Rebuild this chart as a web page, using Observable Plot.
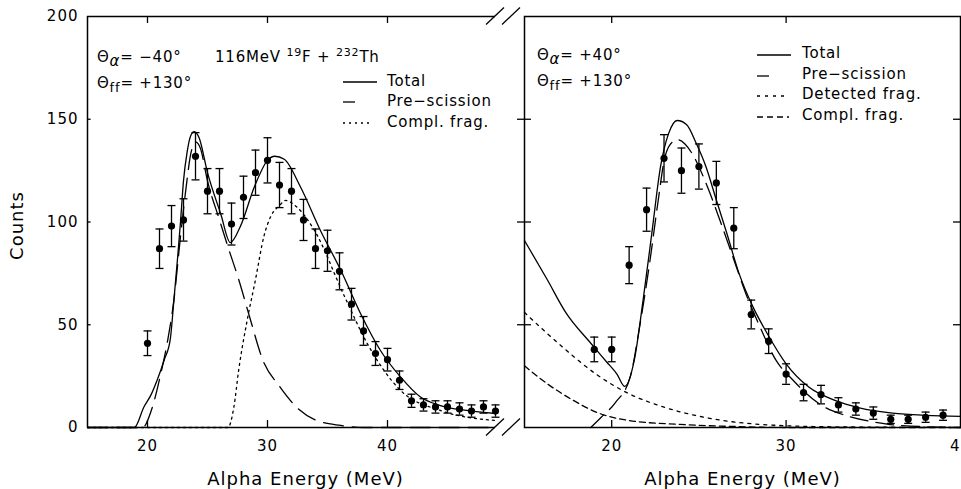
<!DOCTYPE html>
<html><head><meta charset="utf-8">
<script src="https://cdn.jsdelivr.net/npm/d3@7"></script>
<script src="https://cdn.jsdelivr.net/npm/@observablehq/plot@0.6"></script>
<style>
body{margin:0;background:#fff;}
#wrap{position:relative;width:961px;height:489px;overflow:hidden;font-family:"DejaVu Sans";color:#000;background:#fff;}
#wrap svg text{letter-spacing:1px;}
.chart{position:absolute;top:0;}
.ann{position:absolute;font-size:15px;line-height:15px;white-space:pre;letter-spacing:0.8px;}
.ann sub,.ann sup{line-height:0;font-size:11px;}
.ann sub.ff{font-size:13px;vertical-align:-4px;}
.ann sub.al{font-size:15px;font-style:italic;}
#over{position:absolute;left:0;top:0;pointer-events:none;}
</style></head><body><div id="wrap"></div>
<script>
// ---------- data ----------
// left panel: theta_alpha = -40 deg
const leftE      = [20,21,22,23,24,25,26,27,28,29,30,31,32,33,34,35,36,37,38,39,40,41,42,43,44,45,46,47,48,49];
const leftCounts = [41,87,98,101,132,115,115,99,112,124,130,118,115,101,87,86,76,60,47,36,33,23,13,11,10,10,9,8,10,8];
const leftErr    = [6,9.6,10,10.3,11.5,11,11,10.2,10.3,11,11,11,11,10,9.6,10,9,7.7,7,5.8,5.5,4.5,3.2,3,3,3,3,3,3,3];
const leftTotal = [[15,0],[18.9,0],[19.7,10],[20.3,16],[20.8,23],[21.4,33],[21.9,43],[22.2,62],[22.5,82],[22.75,100],[23,120],[23.3,134],[23.6,142],[23.9,144],[24.3,141],[25,124],[26.1,104],[26.9,90],[27.75,98],[28.9,117],[30,130],[30.6,132],[31.4,130.5],[32.75,117],[34.4,96],[36.1,76.6],[37.75,55.5],[39.4,37.6],[41.1,24.5],[42.75,14.8],[44.4,10.7],[46.6,8.3],[49,6.8]];
const leftPre   = [[15,0],[19.6,0],[20.3,8],[21.1,26],[21.7,43],[22.2,62],[22.75,93],[23.2,116],[23.6,133],[24,139],[24.4,136],[25,120],[26,101],[26.7,88],[27.6,72],[28.5,54],[29.6,33],[31,20],[32.4,10],[34.1,3.4],[36.1,1],[38,0],[49,0]];
const leftCompl = [[15,0],[26.7,0],[27.2,10],[27.6,28],[28.3,52],[29,72],[29.7,93],[30.3,103],[31,108],[31.5,110.5],[32.4,107.5],[33.9,96],[36.4,64],[38.3,41],[41.1,18],[44.4,8.3],[49,3.4]];
// right panel: theta_alpha = +40 deg
const rightE      = [19,20,21,22,23,24,25,26,27,28,29,30,31,32,33,34,35,36,37,38,39];
const rightCounts = [38,38,79,106,131,125,127,119,97,55,42,26,17,16,11,9,7,4,4,5,6];
const rightErr    = [6,6,9,10.5,11.5,11,11,10.5,10,7,6,5,4,4.5,3.5,3,3,2,2,2.5,2.5];
const rightTotal = [[15,91],[16.3,72],[17.4,55.5],[18.8,41],[19.7,32],[20.3,26],[20.75,20],[21.3,33],[21.8,62],[22.3,94.5],[22.8,127],[23.26,143],[23.76,149.4],[24.3,147.3],[24.84,138.4],[25.4,127],[26,110.7],[26.6,94.5],[27.3,75],[28.1,58.7],[28.9,46],[30,31],[31.3,19.7],[32.8,13.2],[34.2,9.6],[36.1,7],[38,5.9],[40,5.4]];
const rightPre   = [[18.8,0],[19.4,5],[20.2,12],[21.06,24.5],[21.6,49],[22.2,81.5],[22.67,110.7],[23.06,131.9],[23.5,139],[23.8,140],[24.2,138],[24.7,132],[25.4,119],[26.2,101],[26.95,83],[27.7,65],[28.5,49],[29.4,33],[30.4,23],[31.9,11.5],[33.6,5.4],[35.1,2.6],[36.5,1],[40,0]];
const rightDet   = [[15,56],[17.2,39],[19.1,26],[21,16.4],[23,9.9],[25.8,4.2],[29.6,1],[33,0.3],[40,0]];
const rightCompl = [[15,30],[16.3,21.3],[17.8,13.2],[19.1,7.5],[21,3.4],[23.9,1.5],[27,0.5],[30,0],[40,0]];
const yTicks = [0,50,100,150,200];
const leftXTicks = [20,30,40];
const rightXTicks = [20,30,40];
const xLabel = "Alpha Energy (MeV)";
const yLabel = "Counts";

// ---------- helpers ----------
const pts = (E,V,Er) => E.map((e,i)=>({E:e,V:V[i],Err:Er[i]}));
const crv = a => a.map(([E,V])=>({E,V}));
const cap = {draw(ctx){ctx.moveTo(-4,0);ctx.lineTo(4,0);}};
const lineO = {x:"E",y:"V",curve:"monotone-x",stroke:"black",strokeWidth:1.3};
const style = {fontFamily:"DejaVu Sans",fontSize:"15px",background:"transparent",overflow:"visible",color:"black"};
const errMarks = d => [
  Plot.ruleX(d,{x:"E",y1:r=>r.V-r.Err,y2:r=>r.V+r.Err,strokeWidth:1.3}),
  Plot.dot(d,{x:"E",y:r=>r.V+r.Err,symbol:cap,stroke:"black",fill:"none",strokeWidth:1.3}),
  Plot.dot(d,{x:"E",y:r=>r.V-r.Err,symbol:cap,stroke:"black",fill:"none",strokeWidth:1.3}),
  Plot.dot(d,{x:"E",y:"V",r:3.6,fill:"black",stroke:"none"})
];
const tl = 3.4; // tick length in count units (~7px)

const left = Plot.plot({
  width:524,height:489,marginLeft:87,marginRight:17,marginTop:16,marginBottom:62,
  x:{domain:[15,50],axis:null}, y:{domain:[0,200],axis:null}, style,
  marks:[
    Plot.ruleY([0,200],{x1:15,x2:49,strokeWidth:1.5}),
    Plot.ruleX([15],{y1:0,y2:200,strokeWidth:1.5}),
    Plot.ruleX(leftXTicks,{y1:0,y2:tl,strokeWidth:1.3}),
    Plot.ruleX(leftXTicks,{y1:200-tl,y2:200,strokeWidth:1.3}),
    Plot.ruleY(yTicks.slice(1,-1),{x1:15,x2:15.3,strokeWidth:1.3}),
    Plot.axisX(leftXTicks,{tickSize:0,tickPadding:13,label:null}),
    Plot.axisY(yTicks,{tickSize:0,tickPadding:9,label:null}),
    Plot.text([xLabel],{frameAnchor:"bottom",dy:52,dx:8,fontSize:18,lineAnchor:"middle",textAnchor:"middle"}),
    Plot.text([yLabel],{frameAnchor:"left",dx:-70,dy:3.5,rotate:-90,fontSize:18,lineAnchor:"middle",textAnchor:"middle"}),
    Plot.line(crv(leftCompl),{...lineO,strokeDasharray:"2,4"}),
    Plot.line(crv(leftPre),{...lineO,strokeDasharray:"20,9"}),
    Plot.line(crv(leftTotal),lineO),
    ...errMarks(pts(leftE,leftCounts,leftErr))
  ]
});
const right = Plot.plot({
  width:437,height:489,marginLeft:0,marginRight:1,marginTop:16,marginBottom:62,
  x:{domain:[15,40],axis:null}, y:{domain:[0,200],axis:null}, style,
  marks:[
    Plot.frame({strokeWidth:1.5}),
    Plot.ruleX(rightXTicks.slice(0,2),{y1:0,y2:tl,strokeWidth:1.3}),
    Plot.ruleX(rightXTicks.slice(0,2),{y1:200-tl,y2:200,strokeWidth:1.3}),
    Plot.ruleY(yTicks.slice(1,-1),{x1:14.6,x2:15.4,strokeWidth:1.3}),
    Plot.ruleY(yTicks.slice(1,-1),{x1:39.6,x2:40,strokeWidth:1.3}),
    Plot.axisX(rightXTicks,{tickSize:0,tickPadding:13,label:null}),
    Plot.text([xLabel],{frameAnchor:"bottom",dy:52,fontSize:18,lineAnchor:"middle",textAnchor:"middle"}),
    Plot.line(crv(rightCompl),{...lineO,strokeDasharray:"6,4"}),
    Plot.line(crv(rightDet),{...lineO,strokeDasharray:"3,5"}),
    Plot.line(crv(rightPre),{...lineO,strokeDasharray:"18,8"}),
    Plot.line(crv(rightTotal),lineO),
    ...errMarks(pts(rightE,rightCounts,rightErr))
  ]
});
const wrap = document.getElementById("wrap");
left.classList.add("chart"); left.style.left="0px";
right.classList.add("chart"); right.style.left="524px";
wrap.appendChild(left); wrap.appendChild(right);

// ---------- annotations ----------
function ann(html,x,baseline){
  const d=document.createElement("div"); d.className="ann"; d.innerHTML=html;
  d.style.left=x+"px"; d.style.top=(baseline-12.7)+"px"; wrap.appendChild(d);
}
ann('Θ<sub class="al">α</sub>= −40°',97,63);
ann('116MeV <sup>19</sup>F + <sup>232</sup>Th',215,63);
ann('Θ<sub class="ff">ff</sub>= +130°',97,89);
ann('Θ<sub class="al">α</sub>= +40°',537,61);
ann('Θ<sub class="ff">ff</sub>= +130°',537,87);
const legL = [["Total",87,null,34],["Pre−scission",107,"12,100",12],["Compl. frag.",128,"2,4",30]];
const legR = [["Total",59,null,34],["Pre−scission",80,"12,100",12],["Detected frag.",100,"3,5",30],["Compl. frag.",121,"6,4",32]];
legL.forEach(([t,b])=>ann(t,387,b));
legR.forEach(([t,b])=>ann(t,802,b));

const ns="http://www.w3.org/2000/svg";
const over=document.createElementNS(ns,"svg");
over.setAttribute("id","over"); over.setAttribute("width",961); over.setAttribute("height",489);
wrap.appendChild(over);
function ln(x1,y1,x2,y2,dash){
  const l=document.createElementNS(ns,"line");
  l.setAttribute("x1",x1);l.setAttribute("y1",y1);l.setAttribute("x2",x2);l.setAttribute("y2",y2);
  l.setAttribute("stroke","black");l.setAttribute("stroke-width",1.3);
  if(dash) l.setAttribute("stroke-dasharray",dash);
  over.appendChild(l);
}
legL.forEach(([t,b,dash,len])=>ln(343,b-5,343+len,b-5,dash));
legR.forEach(([t,b,dash,len])=>ln(757,b-4,757+len,b-4,dash));
// axis break marks
const sx=left.scale("x"), sy=left.scale("y");
const bx=sx.apply(49);
[sy.apply(0),sy.apply(200)].forEach(yy=>{
  [bx, bx+16].forEach(cx=>ln(cx-9,yy+8.5,cx+9,yy-8.5));
});
</script></body></html>
